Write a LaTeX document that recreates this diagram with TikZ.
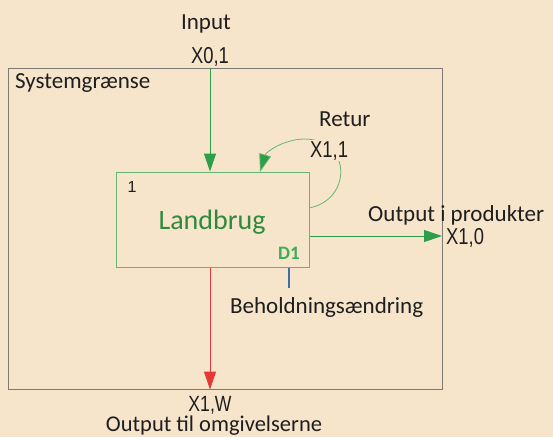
\documentclass[tikz,border=0pt]{standalone}
\usepackage{fontspec}
\setmainfont{Carlito}
\newfontfamily\xfont[FakeStretch=0.8]{Liberation Sans}
\newfontfamily\numfont{Liberation Sans}
\usetikzlibrary{arrows.meta}
\definecolor{bg}{HTML}{F6E4CB}
\definecolor{frame}{HTML}{7F7A74}
\definecolor{boxgreen}{HTML}{66B572}
\definecolor{flowgreen}{HTML}{2E9E48}
\definecolor{textgreen}{HTML}{2E8B3A}
\definecolor{dgreen}{HTML}{3AAF55}
\definecolor{flowred}{HTML}{E53935}
\definecolor{flowblue}{HTML}{3B6FA8}
\definecolor{ink}{HTML}{1E1E1E}
\tikzset{
  lbl/.style={text=ink, inner sep=0pt, anchor=base, font=\fontsize{23}{26}\selectfont},
  xlbl/.style={text=ink, inner sep=0pt, anchor=base, font=\xfont\fontsize{23}{26}\selectfont},
  tip/.style={-{Triangle[length=18pt,width=12pt]}},
  flow/.style={draw=flowgreen, line width=1pt, tip},
}
\begin{document}
\begin{tikzpicture}[x=1pt,y=-1pt]
\useasboundingbox (0,0) rectangle (553,437);
\fill[bg] (0,0) rectangle (553,437);

% system boundary and process box
\node[draw=frame, line width=1pt, minimum width=434pt, minimum height=321pt, inner sep=0pt] (outer) at (225,228.5) {};
\node[draw=boxgreen, line width=1pt, minimum width=193pt, minimum height=95pt, inner sep=0pt] (land) at (212.5,219.5) {};

% free ends of the flows
\coordinate (inTop) at (210,68);
\coordinate (retS) at (309,208);
\coordinate (retE) at (260,172);
\coordinate (outE) at (442,236);
\coordinate (wX) at (210,267);
\coordinate (stockEnd) at (289,288);

% flows
\draw[flow] (inTop) -- (land.north -| inTop);
\draw[draw=boxgreen, line width=0.8pt, -{Triangle[length=18pt,width=12pt,fill=flowgreen]}]
  (retS) .. controls (352,200) and (352,140) .. (305,139)
         .. controls (284,139) and (266,152) .. (retE);
\draw[flow] (land.east |- outE) -- (outE);
\draw[draw=flowred, fill=flowred, line width=1pt, tip] (land.south -| wX) -- (outer.south -| wX);
\draw[draw=flowblue, line width=1.2pt] (land.south -| stockEnd) -- (stockEnd);

% labels
\node[lbl] (tInput) at (206,29) {Input};
\node[xlbl] (tX01) at (210,63) {X0,1};
\node[lbl, anchor=base west] (tSys) at (15,88) {Systemgrænse};
\node[lbl, anchor=base west] (tRet) at (319,126) {Retur};
\node[xlbl, anchor=base west, fill=bg, inner sep=1pt] (tX11) at (309,157) {X1,1};
\node[text=ink, inner sep=0pt, anchor=base, font=\numfont\fontsize{16}{18}\selectfont] (tOne) at (132,192) {1};
\node[inner sep=0pt, anchor=base, text=textgreen, font=\fontsize{28}{32}\selectfont] (tLand) at (212,229) {Landbrug};
\node[inner sep=0pt, anchor=base, text=dgreen, font=\bfseries\fontsize{19}{22}\selectfont] (tD1) at (289,259) {D1};
\node[lbl, anchor=base west] (tOutP) at (368,221) {Output i produkter};
\node[xlbl, anchor=base west] (tX10) at (446,244) {X1,0};
\node[lbl, anchor=base west] (tBeh) at (230,313) {Beholdningsændring};
\node[xlbl, font=\xfont\fontsize{22}{24}\selectfont] (tX1W) at (210,411) {X1,W};
\node[lbl, font=\fontsize{22.5}{25}\selectfont] (tOutO) at (214,431) {Output til omgivelserne};
\end{tikzpicture}
\end{document}
